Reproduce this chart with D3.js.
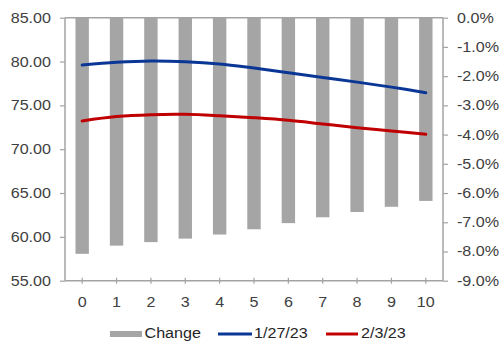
<!DOCTYPE html>
<html>
<head>
<meta charset="utf-8">
<script src="https://cdn.jsdelivr.net/npm/d3@7"></script>
<style>
  html, body { margin: 0; padding: 0; background: #fff; }
  svg { display: block; font-family: "Liberation Sans", Arial, sans-serif; }
</style>
</head>
<body>
<svg id="chart" width="504" height="343"></svg>
<script>
// Categories along the x axis
const categories = ["0", "1", "2", "3", "4", "5", "6", "7", "8", "9", "10"];
// Percentage change between the two curves (right axis, %)
const changePct = [-8.08, -7.80, -7.68, -7.56, -7.42, -7.24, -7.03, -6.83, -6.65, -6.47, -6.27];
// Curve values (left axis)
const series1272 = [79.60, 79.91, 80.06, 79.98, 79.72, 79.25, 78.73, 78.18, 77.65, 77.08, 76.45];
const series23 = [73.22, 73.72, 73.94, 73.98, 73.82, 73.59, 73.30, 72.88, 72.46, 72.08, 71.70];
// Axis tick values
const leftTicks = [55, 60, 65, 70, 75, 80, 85];
const rightTicks = [0, -1, -2, -3, -4, -5, -6, -7, -8, -9];

const svg = d3.select("#chart");
const plot = { left: 65, right: 443, top: 17.7, bottom: 280.7 };
const axisColor = "#a3a3a3";
const labelColor = "#404040";
const fontSize = 14;
const stretch = 1.15;

const x = d3.scaleBand().domain(categories)
  .range([plot.left, plot.right]).paddingInner(0.61).paddingOuter(0.305);
const yLeft = d3.scaleLinear().domain([55, 85]).range([plot.bottom, plot.top]);
const yRight = d3.scaleLinear().domain([-9, 0]).range([plot.bottom, plot.top]);

// Percent labels written with a plain hyphen for negatives
const pctFormat = d => (d < 0 ? "-" : "") + Math.abs(d).toFixed(1) + "%";

// Widen the glyphs horizontally a little
function widen(sel) {
  sel.each(function () {
    const w = this.getComputedTextLength();
    this.setAttribute("textLength", w * stretch);
    this.setAttribute("lengthAdjust", "spacingAndGlyphs");
  });
}

// Bars hang down from 0%
svg.append("g").selectAll("rect").data(changePct).join("rect")
  .attr("x", (d, i) => x(categories[i]))
  .attr("width", x.bandwidth())
  .attr("y", yRight(0))
  .attr("height", d => yRight(d) - yRight(0))
  .attr("fill", "#a5a5a5");

// Frame: top line
svg.append("line")
  .attr("x1", plot.left).attr("x2", plot.right)
  .attr("y1", plot.top).attr("y2", plot.top)
  .attr("stroke", axisColor).attr("stroke-width", 1.5);

// Left axis
const gl = svg.append("g").attr("transform", `translate(${plot.left},0)`)
  .call(d3.axisLeft(yLeft).tickValues(leftTicks).tickFormat(d3.format(".2f"))
    .tickSize(5).tickPadding(9));
// Right axis
const gr = svg.append("g").attr("transform", `translate(${plot.right},0)`)
  .call(d3.axisRight(yRight).tickValues(rightTicks).tickFormat(pctFormat)
    .tickSize(5).tickPadding(9));
// Bottom axis with ticks crossing the line
const gb = svg.append("g").attr("transform", `translate(0,${plot.bottom})`)
  .call(d3.axisBottom(x).tickSize(3).tickPadding(13).tickSizeOuter(0));
gb.selectAll(".tick line").attr("y1", -3);

[gl, gr, gb].forEach(g => {
  g.select(".domain").attr("stroke", axisColor).attr("stroke-width", 1.5);
  g.selectAll(".tick line").attr("stroke", axisColor).attr("stroke-width", 1.2);
  g.selectAll(".tick text").attr("fill", labelColor)
    .attr("font-size", fontSize).attr("font-family", "Liberation Sans, Arial, sans-serif")
    .call(widen);
});
gl.select(".domain").attr("d", `M-0,${plot.top}V${plot.bottom}`);
gr.select(".domain").attr("d", `M0,${plot.top}V${plot.bottom}`);
gb.select(".domain").attr("d", `M${plot.left},0H${plot.right}`);

// Smoothed curves
const line = d3.line()
  .x((d, i) => x(categories[i]) + x.bandwidth() / 2)
  .y(d => yLeft(d))
  .curve(d3.curveCatmullRom.alpha(0.5));

svg.append("path").datum(series1272)
  .attr("d", line).attr("fill", "none")
  .attr("stroke", "#0a3796").attr("stroke-width", 3).attr("stroke-linecap", "round");
svg.append("path").datum(series23)
  .attr("d", line).attr("fill", "none")
  .attr("stroke", "#c00000").attr("stroke-width", 3).attr("stroke-linecap", "round");

// Legend
const legend = svg.append("g").attr("font-size", fontSize).attr("fill", "#262626");
legend.append("rect").attr("x", 110).attr("y", 331).attr("width", 32).attr("height", 6).attr("fill", "#a5a5a5");
legend.append("text").attr("x", 144.5).attr("y", 338).text("Change");
legend.append("line").attr("x1", 218).attr("x2", 252).attr("y1", 334).attr("y2", 334)
  .attr("stroke", "#0a3796").attr("stroke-width", 3);
legend.append("text").attr("x", 254).attr("y", 338).text("1/27/23");
legend.append("line").attr("x1", 326).attr("x2", 358).attr("y1", 334).attr("y2", 334)
  .attr("stroke", "#c00000").attr("stroke-width", 3);
legend.append("text").attr("x", 361).attr("y", 338).text("2/3/23");
legend.selectAll("text").call(widen);
</script>
</body>
</html>
